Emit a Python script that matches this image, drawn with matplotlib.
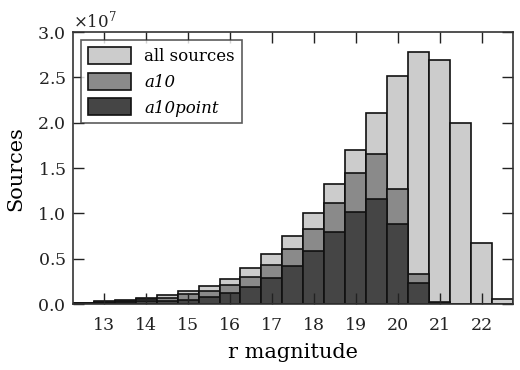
import numpy as np
import matplotlib
matplotlib.use("Agg")
import matplotlib.pyplot as plt
from matplotlib.ticker import ScalarFormatter

# bin centres (r magnitude), bin width 0.5
mag = [12.5, 13.0, 13.5, 14.0, 14.5, 15.0, 15.5, 16.0, 16.5, 17.0, 17.5,
       18.0, 18.5, 19.0, 19.5, 20.0, 20.5, 21.0, 21.5, 22.0, 22.5]

# counts in units of 1e7
all_sources = [0.011, 0.033, 0.048, 0.066, 0.096, 0.143, 0.199, 0.28, 0.393, 0.548, 0.75,
               1.00, 1.32, 1.695, 2.11, 2.51, 2.78, 2.69, 2.00, 0.67, 0.06]
a10 = [0.009, 0.026, 0.037, 0.055, 0.07, 0.107, 0.143, 0.21, 0.30, 0.426, 0.61,
       0.83, 1.12, 1.45, 1.66, 1.27, 0.335, 0.02, 0.0, 0.0, 0.0]
a10point = [0.006, 0.015, 0.022, 0.03, 0.037, 0.05, 0.077, 0.121, 0.1875, 0.283, 0.42,
            0.585, 0.79, 1.02, 1.155, 0.88, 0.23, 0.015, 0.0, 0.0, 0.0]

plt.rcParams['font.family'] = ['DejaVu Serif']
plt.rcParams['mathtext.fontset'] = 'dejavuserif'

fig = plt.figure(figsize=(5.2, 3.7), dpi=100)
ax = fig.add_axes([0.140, 0.178, 0.8465, 0.7355])

scale = 1e7
mag = np.array(mag)
ax.bar(mag, np.array(all_sources) * scale, width=0.5, color='#cccccc',
       edgecolor='#111111', linewidth=1.2, label='all sources')
ax.bar(mag, np.array(a10) * scale, width=0.5, color='#8a8a8a',
       edgecolor='#111111', linewidth=1.2, label='a10')
ax.bar(mag, np.array(a10point) * scale, width=0.5, color='#454545',
       edgecolor='#111111', linewidth=1.2, label='a10point')

ax.set_xlim(12.25, 22.75)
ax.set_ylim(0, 3.0e7)
ax.set_xticks(range(13, 23))
ax.set_yticks(np.arange(0, 3.01e7, 0.5e7))

fmt = ScalarFormatter(useMathText=True)
fmt.set_powerlimits((0, 0))
ax.yaxis.set_major_formatter(fmt)
ax.yaxis.get_offset_text().set_fontsize(12)

ax.tick_params(direction='in', length=8, width=1, top=True, right=True,
               labelsize=12.5, colors='#222222', pad=5)
ax.tick_params(axis='x', pad=9)
for s in ax.spines.values():
    s.set_linewidth(1.2)
    s.set_color('#333333')

ax.set_xlabel('r magnitude', fontsize=15, labelpad=7)
ax.set_ylabel('Sources', fontsize=15, labelpad=9)

leg = ax.legend(loc='upper left', fontsize=12, frameon=True, fancybox=False,
                edgecolor='#333333', handlelength=2.6, handleheight=1.2,
                borderaxespad=0.5, labelspacing=0.45)
leg.get_frame().set_linewidth(1.2)
for t in leg.get_texts()[1:]:
    t.set_fontstyle('italic')

fig.savefig('out.png', dpi=100)
